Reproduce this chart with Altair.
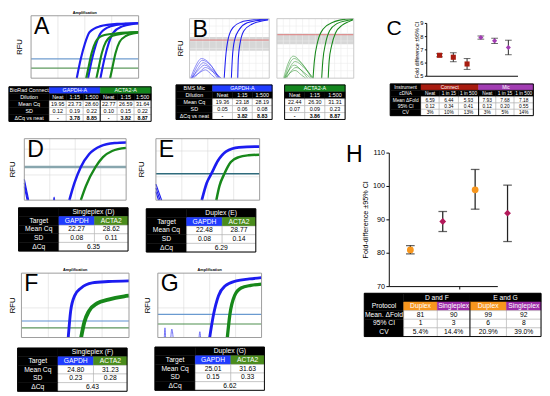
import altair as alt
import pandas as pd

FONT = "Liberation Sans"
BK, WH = "#000000", "#ffffff"
CURVE_BLUE, CURVE_GREEN = "#1c1cf0", "#17881a"
HDR_BLUE, HDR_GREEN, HDR_GREEN2 = "#1f3cff", "#14861e", "#4a8c1c"
CONNECT_RED, MIC_PURPLE = "#a81c10", "#a23db3"
DUPLEX_ORANGE, SINGLE_PURPLE, SINGLE_DOT = "#f7961d", "#9c2aa8", "#b3195a"

# ---------------- Panel A : BioRad Connect amplification (cycle, RFU) ----------------
a_gapdh_neat = [(17.0, 0), (18.5, 31), (20.0, 55), (21.8, 74), (25.5, 83), (32.0, 87), (40, 88)]
a_gapdh_15 = [(21.2, 0), (22.7, 31), (24.2, 55), (26.0, 73), (29.5, 83), (35.0, 87), (40, 88)]
a_gapdh_500 = [(25.8, 0), (27.3, 31), (28.8, 55), (30.6, 73), (34.0, 83), (38.0, 87), (40, 88)]
a_acta2_neat = [(20.5, 0), (21.3, 16), (22.5, 40), (24.0, 58), (26.5, 68), (32.0, 72), (40, 74)]
a_acta2_15 = [(24.3, 0), (25.1, 16), (26.3, 40), (27.8, 58), (30.3, 68), (35.0, 72), (40, 74)]
a_acta2_500 = [(29.4, 0), (30.2, 16), (31.4, 40), (32.9, 58), (35.4, 68), (38.5, 72), (40, 73)]
a_thresholds = [31, 16]

a_dilutions = ["Neat", "1:15", "1:500"]
a_mean_cq = [19.95, 23.73, 28.60, 22.77, 26.59, 31.64]
a_sd = [0.12, 0.19, 0.22, 0.10, 0.15, 0.22]
a_dcq = ["-", "3.78", "8.85", "-", "3.82", "8.87"]

# ---------------- Panel B : BMS Mic ----------------
b_gapdh_neat = [(17.4, 0), (18.1, 34), (19.4, 66), (21.8, 85), (25.8, 94), (32.3, 98), (39.5, 99)]
b_gapdh_15 = [(21.0, 0), (21.5, 34), (22.6, 64), (25.0, 82), (29.0, 93), (34.7, 97), (39.5, 98)]
b_gapdh_500 = [(24.2, 0), (24.5, 34), (25.5, 61), (27.4, 80), (31.5, 91), (36.3, 96), (39.5, 98)]
b_gapdh_bg = [
    [(0.5, 0), (3.0, 20), (6.0, 33), (10.0, 25), (14.5, 0)],
    [(1.0, 0), (3.5, 18), (6.5, 30), (11.0, 20), (15.0, 0)],
    [(1.5, 0), (4.0, 15), (7.0, 26), (11.0, 16), (15.5, 0)],
    [(0.8, 0), (4.0, 12), (7.5, 22), (11.5, 12), (14.0, 0)],
    [(2.0, 0), (5.0, 10), (8.0, 18), (12.0, 10), (16.0, 0)],
    [(1.0, 0), (4.5, 8), (8.0, 14), (11.0, 6), (13.0, 0)],
]
b_acta2_neat = [(18.8, 0), (19.5, 29), (21.2, 61), (24.2, 83), (29.2, 94), (35.8, 99), (39.7, 100)]
b_acta2_15 = [(23.3, 0), (23.9, 29), (25.3, 58), (27.5, 80), (31.5, 92), (36.5, 97), (39.7, 99)]
b_acta2_500 = [(26.7, 0), (27.2, 29), (28.5, 55), (30.5, 76), (34.0, 89), (37.5, 95), (39.7, 98)]
b_acta2_bg = [
    [(3.5, 0), (5.5, 22), (8.5, 37), (13.0, 25), (18.0, 0)],
    [(4.0, 0), (6.0, 20), (9.0, 33), (13.5, 22), (18.5, 0)],
    [(4.5, 0), (6.5, 16), (9.5, 28), (14.0, 18), (19.0, 0)],
    [(3.8, 0), (6.0, 12), (9.0, 22), (13.0, 12), (16.0, 0)],
    [(5.0, 0), (7.0, 10), (10.0, 18), (14.0, 10), (17.5, 0)],
    [(4.2, 0), (6.5, 8), (9.5, 13), (12.5, 6), (15.0, 0)],
]
b_gapdh_band = (46, 69, 64)   # band low, band high, threshold
b_acta2_band = (57, 75, 73)
b_mean_cq = [19.36, 23.18, 28.19, 22.44, 26.30, 31.31]
b_sd = [0.05, 0.06, 0.08, 0.07, 0.09, 0.23]
b_dcq = ["-", "3.82", "8.83", "-", "3.86", "8.87"]

# ---------------- Panel C : fold difference per instrument ----------------
c_instrument = ["Connect"] * 3 + ["Mic"] * 3
c_cdna = ["Neat", "1 in 15", "1 in 500"]
c_mean = [6.59, 6.44, 5.93, 7.93, 7.68, 7.18]
c_ci = [0.12, 0.34, 0.41, 0.12, 0.20, 0.55]
c_cv = ["3%", "10%", "13%", "3%", "5%", "14%"]
c_yticks = [5, 6, 7, 8, 9]

# ---------------- Panels D-G ----------------
d_gapdh = [(17.7, 0), (19.7, 28), (22.2, 54), (25.5, 75), (30.0, 88), (35.7, 93), (40, 94)]
d_acta2 = [(22.2, 0), (24.2, 23), (28.0, 54), (30.9, 70), (34.5, 80), (40, 85)]
d_noise = [[(0, 34), (1.7, 0)], [(0, 28), (1.4, 0)], [(0, 22), (1.1, 0)], [(11.5, 0), (11.7, 5), (11.9, 0)]]
d_threshold = 54
e_gapdh = [(17.7, 0), (19.6, 28), (21.4, 43), (23.9, 64), (27.0, 79), (32.0, 86), (38.2, 87), (40, 87)]
e_acta2 = [(23.3, 0), (24.5, 23), (26.4, 43), (28.9, 62), (32.0, 70), (35.7, 73), (40, 74)]
e_noise = [[(0, 26), (2.2, 0)], [(0, 20), (1.6, 0)], [(0, 14), (1.0, 0)]]
e_threshold = 43
f_gapdh = [(17.4, 0), (18.3, 41), (19.8, 65), (22.2, 77), (26.3, 85), (32.3, 87), (40, 88)]
f_acta2 = [(22.2, 0), (23.4, 24), (25.1, 41), (28.1, 53), (32.3, 59), (38.2, 64), (40, 65)]
f_thresholds = [25.6, 15]
g_gapdh = [(20.0, 0), (21.5, 36), (23.4, 65), (25.9, 80), (30.3, 88), (35.3, 91), (40, 93)]
g_acta2 = [(26.8, 0), (27.8, 36), (29.6, 65), (32.1, 77), (35.9, 81), (40, 83)]
g_noise = [[(2.5, 0), (2.75, 15), (3.0, 0)], [(5.0, 0), (5.4, 13), (5.9, 0)], [(15.9, 0), (16.2, 9), (16.5, 0)]]
g_thresholds = [36, 21]

d_stats = {"label": "Singleplex (D)", "cq": [22.27, 28.62], "sd": [0.08, 0.11], "dcq": 6.35}
e_stats = {"label": "Duplex (E)", "cq": [22.48, 28.77], "sd": [0.08, 0.14], "dcq": 6.29}
f_stats = {"label": "Singleplex (F)", "cq": [24.80, 31.23], "sd": [0.23, 0.28], "dcq": 6.43}
g_stats = {"label": "Duplex (G)", "cq": [25.01, 31.63], "sd": [0.15, 0.33], "dcq": 6.62}

# ---------------- Panel H ----------------
h_group = ["D and F", "D and F", "E and G", "E and G"]
h_protocol = ["Duplex", "Singleplex", "Duplex", "Singleplex"]
h_mean = [81.0, 89.5, 99.0, 92.0]
h_low = [79.8, 86.5, 93.2, 83.5]
h_high = [82.3, 92.5, 105.1, 100.4]
h_mean_fold = ["81", "90", "99", "92"]
h_ci = ["1", "3", "6", "8"]
h_cv = ["5.4%", "14.4%", "20.9%", "39.0%"]
h_yticks = [70, 80, 90, 100, 110]

ONE = pd.DataFrame({"k": [0]})


def row(*charts, spacing=0):
    return alt.concat(*charts, columns=len(charts), spacing=spacing, align="none")


def col(*charts, spacing=0):
    return alt.concat(*charts, columns=1, spacing=spacing, align="none")


def label(txt, x, y, size, **kw):
    return alt.Chart(ONE).mark_text(fontSize=size, color="black", **kw).encode(
        x=alt.value(x), y=alt.value(y), text=alt.value(txt))


def amp_plot(lines, rules, w, h, letter=None, lead=0, rfu_x=10, top=0, title=False,
             band=None, gx=(10, 20, 30), gy=(), grid_color="#d8d8d8", frame="#9a9a9a"):
    ux, uy = 40 / w, 100 / h
    xs = alt.Scale(domain=[-lead * ux, 40], nice=False, zero=False)
    ys = alt.Scale(domain=[0, 100 + top * uy], nice=False, zero=False)
    X = lambda f: alt.X(f, scale=xs, axis=None)
    Y = lambda f: alt.Y(f, scale=ys, axis=None)
    layers = []
    if band:
        bdf = pd.DataFrame({"x0": [0], "x1": [40], "lo": [band[0]], "hi": [band[1]]})
        layers.append(alt.Chart(bdf).mark_rect(color="#c9c9c9", opacity=0.75).encode(
            x=X("x0:Q"), x2="x1:Q", y=Y("lo:Q"), y2="hi:Q"))
    grid = [{"x": g, "x2": g, "y": 0, "y2": 100} for g in gx] + \
           [{"x": 0, "x2": 40, "y": g, "y2": g} for g in gy]
    layers.append(alt.Chart(pd.DataFrame(grid)).mark_rule(color=grid_color, strokeWidth=0.6).encode(
        x=X("x:Q"), x2="x2:Q", y=Y("y:Q"), y2="y2:Q"))
    rdf = pd.DataFrame([{"rfu": v, "x0": 0, "x1": 40, "color": c, "sw": s} for (v, c, s) in rules])
    layers.append(alt.Chart(rdf).mark_rule().encode(
        x=X("x0:Q"), x2="x1:Q", y=Y("rfu:Q"),
        color=alt.Color("color:N", scale=None), strokeWidth=alt.StrokeWidth("sw:Q", scale=None)))
    rows = []
    for k, (pts, color, sw) in enumerate(lines):
        for i, (c, r) in enumerate(pts):
            rows.append({"curve": k, "i": i, "cycle": c, "rfu": r, "color": color, "sw": sw})
    layers.append(alt.Chart(pd.DataFrame(rows)).mark_line(interpolate="monotone").encode(
        x=X("cycle:Q"), y=Y("rfu:Q"), detail="curve:N", order="i:Q",
        color=alt.Color("color:N", scale=None), strokeWidth=alt.StrokeWidth("sw:Q", scale=None)))
    fdf = pd.DataFrame({"x0": [0], "x1": [40], "y0": [0], "y1": [100]})
    layers.append(alt.Chart(fdf).mark_rect(fillOpacity=0, stroke=frame, strokeWidth=1).encode(
        x=X("x0:Q"), x2="x1:Q", y=Y("y0:Q"), y2="y1:Q"))
    if letter:
        layers.append(label(letter, lead + 3, top, 24, align="left", baseline="top"))
    if rfu_x:
        layers.append(label("RFU", lead - rfu_x, top + h / 2, 8, angle=270))
    if title:
        layers.append(label("Amplification", lead + w / 2, top - 1, 4, fontWeight="bold", baseline="bottom"))
    return alt.layer(*layers).properties(width=lead + w, height=top + h)


def table(cells, col_w, row_h, fs, lead=0, seps=(), borders=None):
    edges = [0]
    for cw in col_w:
        edges.append(edges[-1] + cw)
    nrows = max(c[0] for c in cells) + 1
    H = nrows * row_h
    W = edges[-1]
    recs = []
    for cell in cells:
        r, c0, c1, txt, fill, tc = cell[:6]
        bold = cell[6] if len(cell) > 6 else False
        recs.append(dict(x0=edges[c0], x1=edges[c1], y0=r * row_h, y1=(r + 1) * row_h,
                         xm=(edges[c0] + edges[c1]) / 2, ym=(r + 0.5) * row_h, text=txt,
                         fill=fill, tc=tc, bold=bold,
                         stroke="#a8a8a8" if fill == WH else fill))
    df = pd.DataFrame(recs)
    xs = alt.Scale(domain=[-lead, W], nice=False, zero=False)
    ys = alt.Scale(domain=[0, H], reverse=True, nice=False, zero=False)
    base = alt.Chart(df)
    X = lambda f: alt.X(f, scale=xs, axis=None)
    Y = lambda f: alt.Y(f, scale=ys, axis=None)
    layers = [
        base.mark_rect(strokeWidth=0.5).encode(
            x=X("x0:Q"), x2="x1:Q", y=Y("y0:Q"), y2="y1:Q",
            fill=alt.Fill("fill:N", scale=None), stroke=alt.Stroke("stroke:N", scale=None)),
        base.transform_filter("!datum.bold").mark_text(fontSize=fs).encode(
            x=X("xm:Q"), y=Y("ym:Q"), text="text:N", color=alt.Color("tc:N", scale=None)),
        base.transform_filter("datum.bold").mark_text(fontSize=fs, fontWeight="bold").encode(
            x=X("xm:Q"), y=Y("ym:Q"), text="text:N", color=alt.Color("tc:N", scale=None)),
    ]
    if seps:
        sdf = pd.DataFrame([{"x": edges[c], "y0": r0 * row_h, "y1": H} for (c, r0) in seps])
        layers.append(alt.Chart(sdf).mark_rule(color="black", strokeWidth=1).encode(
            x=X("x:Q"), y=Y("y0:Q"), y2="y1:Q"))
    if borders is None:
        borders = [(0, len(col_w))]
    bdf = pd.DataFrame([{"x0": edges[a], "x1": edges[b], "y0": 0, "y1": H} for (a, b) in borders])
    layers.append(alt.Chart(bdf).mark_rect(fillOpacity=0, stroke="black", strokeWidth=1).encode(
        x=X("x0:Q"), x2="x1:Q", y=Y("y0:Q"), y2="y1:Q"))
    return alt.layer(*layers).properties(width=W + lead, height=H)


def dot_panel(df, x_dom, y_dom, yticks, w, h, lead, top, bottom, right, ytitle, letter,
              label_fs, title_fs, title_x, letter_fs, letter_xy, tick_len, cap, psize, bar_w, xtick=None):
    ux = (x_dom[1] - x_dom[0]) / w
    uy = (y_dom[1] - y_dom[0]) / h
    xs = alt.Scale(domain=[x_dom[0] - lead * ux, x_dom[1] + right * ux], nice=False, zero=False)
    ys = alt.Scale(domain=[y_dom[0] - bottom * uy, y_dom[1] + top * uy], nice=False, zero=False)
    X = lambda f: alt.X(f, scale=xs, axis=None)
    Y = lambda f: alt.Y(f, scale=ys, axis=None)
    x0, y0 = x_dom[0], y_dom[0]
    segs = [{"x": x0, "x2": x0, "y": y_dom[0], "y2": y_dom[1]},
            {"x": x0, "x2": x_dom[1], "y": y0, "y2": y0}]
    segs += [{"x": x0 - tick_len * ux, "x2": x0, "y": t, "y2": t} for t in yticks]
    if xtick is not None:
        segs.append({"x": xtick, "x2": xtick, "y": y0, "y2": y0 - tick_len * uy})
    axis_df = pd.DataFrame(segs)
    lab_df = pd.DataFrame({"x": [x0 - (tick_len + 1.5) * ux] * len(yticks), "y": yticks,
                           "t": [str(t) for t in yticks]})
    base = alt.Chart(df)
    layers = [
        alt.Chart(axis_df).mark_rule(color="black", strokeWidth=1).encode(
            x=X("x:Q"), x2="x2:Q", y=Y("y:Q"), y2="y2:Q"),
        alt.Chart(lab_df).mark_text(fontSize=label_fs, align="right", color="black").encode(
            x=X("x:Q"), y=Y("y:Q"), text="t:N"),
        base.mark_rule(color="#222", strokeWidth=bar_w).encode(x=X("idx:Q"), y=Y("lo:Q"), y2="hi:Q"),
        base.mark_tick(orient="horizontal", size=cap, thickness=bar_w, color="#222").encode(x=X("idx:Q"), y=Y("hi:Q")),
        base.mark_tick(orient="horizontal", size=cap, thickness=bar_w, color="#222").encode(x=X("idx:Q"), y=Y("lo:Q")),
        base.mark_point(filled=True, opacity=1, size=psize, strokeWidth=0).encode(
            x=X("idx:Q"), y=Y("mean:Q"),
            color=alt.Color("color:N", scale=None), shape=alt.Shape("shape:N", scale=None)),
        label(ytitle, title_x, top + h / 2, title_fs, angle=270),
        label(letter, letter_xy[0], letter_xy[1], letter_fs, align="left", baseline="top"),
    ]
    return alt.layer(*layers).properties(width=lead + w + right, height=top + h + bottom)


# ---------- Panel A ----------
B1, G1 = CURVE_BLUE, CURVE_GREEN
a_plot = amp_plot(
    [(a_gapdh_neat, B1, 2.2), (a_gapdh_15, B1, 2.2), (a_gapdh_500, B1, 2.2),
     (a_acta2_neat, G1, 2.2), (a_acta2_15, G1, 2.2), (a_acta2_500, G1, 2.2)],
    [(a_thresholds[0], "#6f9ccf", 1.2), (a_thresholds[1], "#5e9a5e", 1.2)],
    112, 65, letter="A", lead=23, rfu_x=11, top=5, title=True)
a_cells = [(0, 0, 1, "BioRad Connect", BK, WH), (0, 1, 4, "GAPDH-A", HDR_BLUE, WH),
           (0, 4, 7, "ACTA2-A", HDR_GREEN, WH), (1, 0, 1, "Dilution", BK, WH),
           (2, 0, 1, "Mean Cq", BK, WH), (3, 0, 1, "SD", BK, WH), (4, 0, 1, "ΔCq vs neat", BK, WH)]
for j in range(6):
    a_cells += [(1, 1 + j, 2 + j, a_dilutions[j % 3], BK, WH),
                (2, 1 + j, 2 + j, f"{a_mean_cq[j]:.2f}", WH, BK),
                (3, 1 + j, 2 + j, f"{a_sd[j]:.2f}", WH, BK),
                (4, 1 + j, 2 + j, a_dcq[j], WH, BK, True)]
a_table = table(a_cells, [42] + [17.67] * 6, 7.2, 5.6, seps=[(4, 1)])
panel_a = col(a_plot, a_table, spacing=3)

# ---------- Panel B ----------
b_gx = [i * 40 / 12 for i in range(1, 12)]
b_gy = [i * 12.5 for i in range(1, 8)]
b_left = amp_plot(
    [(p, B1, 0.5) for p in b_gapdh_bg] + [(b_gapdh_neat, B1, 1.1), (b_gapdh_15, B1, 1.1), (b_gapdh_500, B1, 1.1)],
    [(b_gapdh_band[2], "#e07a7a", 1)], 83, 62, letter="B", lead=14, rfu_x=9, top=8,
    band=b_gapdh_band[:2], gx=b_gx, gy=b_gy, grid_color="#ebebeb", frame="#c8c8c8")
b_right = amp_plot(
    [(p, G1, 0.5) for p in b_acta2_bg] + [(b_acta2_neat, G1, 1.1), (b_acta2_15, G1, 1.1), (b_acta2_500, G1, 1.1)],
    [(b_acta2_band[2], "#e07a7a", 1)], 80, 62, rfu_x=0, top=8, band=b_acta2_band[:2],
    gx=b_gx, gy=b_gy, grid_color="#ebebeb", frame="#c8c8c8")
b_cols = [1, 2, 3, 5, 6, 7]
b_cells = [(0, 0, 1, "BMS Mic", BK, WH), (0, 1, 4, "GAPDH-A", HDR_BLUE, WH),
           (0, 5, 8, "ACTA2-A", HDR_GREEN, WH), (1, 0, 1, "Dilution", BK, WH),
           (2, 0, 1, "Mean Cq", BK, WH), (3, 0, 1, "SD", BK, WH), (4, 0, 1, "ΔCq vs neat", BK, WH)]
for j, c in enumerate(b_cols):
    b_cells += [(1, c, c + 1, a_dilutions[j % 3], BK, WH),
                (2, c, c + 1, f"{b_mean_cq[j]:.2f}", WH, BK),
                (3, c, c + 1, f"{b_sd[j]:.2f}", WH, BK),
                (4, c, c + 1, b_dcq[j], WH, BK, True)]
b_table = table(b_cells, [38, 20.7, 20.7, 20.6, 13, 21, 21, 21], 7.2, 5.6, borders=[(0, 4), (5, 8)])
panel_b = col(row(b_left, b_right, spacing=5), b_table, spacing=3)

# ---------- Panel C ----------
c_df = pd.DataFrame({
    "idx": list(range(1, 7)), "mean": c_mean,
    "lo": [m - c for m, c in zip(c_mean, c_ci)], "hi": [m + c for m, c in zip(c_mean, c_ci)],
    "color": [CONNECT_RED if i == "Connect" else MIC_PURPLE for i in c_instrument],
    "shape": ["square" if i == "Connect" else "diamond" for i in c_instrument]})
c_plot = dot_panel(c_df, [0.07, 6.7], [5, 9], c_yticks, 95, 55, lead=42, top=13, bottom=2, right=2,
                   ytitle="Fold difference ±95% CI", letter="C", label_fs=6, title_fs=5.5, title_x=32,
                   letter_fs=22, letter_xy=(0, 8), tick_len=2, cap=7, psize=28, bar_w=1)
c_cells = [(0, 0, 1, "Instrument", BK, WH), (0, 1, 4, "Connect", CONNECT_RED, WH),
           (0, 4, 7, "Mic", MIC_PURPLE, WH), (1, 0, 1, "cDNA", BK, WH),
           (2, 0, 1, "Mean ΔFold", BK, WH), (3, 0, 1, "95% CI", BK, WH), (4, 0, 1, "CV", BK, WH)]
for j in range(6):
    c_cells += [(1, 1 + j, 2 + j, c_cdna[j % 3], BK, WH),
                (2, 1 + j, 2 + j, f"{c_mean[j]:.2f}", WH, BK),
                (3, 1 + j, 2 + j, f"{c_ci[j]:.2f}", WH, BK),
                (4, 1 + j, 2 + j, c_cv[j], WH, BK)]
c_table = table(c_cells, [32, 19, 20, 21, 18, 19, 20], 6.6, 5.0, lead=4, seps=[(4, 1)])
panel_c = col(c_plot, c_table, spacing=3)

top_row = row(row(panel_a, panel_b, spacing=23), panel_c, spacing=30)


# ---------- Panels D-G ----------
def cq_table(st, lead):
    cells = [(0, 0, 1, "", BK, WH), (0, 1, 3, st["label"], BK, WH),
             (1, 0, 1, "Target", BK, WH), (1, 1, 2, "GAPDH", HDR_BLUE, WH), (1, 2, 3, "ACTA2", HDR_GREEN2, WH),
             (2, 0, 1, "Mean Cq", BK, WH), (2, 1, 2, f"{st['cq'][0]:.2f}", WH, BK), (2, 2, 3, f"{st['cq'][1]:.2f}", WH, BK),
             (3, 0, 1, "SD", BK, WH), (3, 1, 2, f"{st['sd'][0]:.2f}", WH, BK), (3, 2, 3, f"{st['sd'][1]:.2f}", WH, BK),
             (4, 0, 1, "ΔCq", BK, WH), (4, 1, 3, f"{st['dcq']:.2f}", WH, BK)]
    return table(cells, [42, 37, 35], 9, 7, lead=lead)


d_plot = amp_plot([(p, B1, 1.2) for p in d_noise] + [(d_gapdh, B1, 2.6), (d_acta2, G1, 2.4)],
                  [(d_threshold, "#88a6ae", 2.6)], 106, 64, letter="D", lead=16, rfu_x=12, gy=[41, 83])
e_plot = amp_plot([(p, B1, 1.2) for p in e_noise] + [(e_gapdh, B1, 2.8), (e_acta2, G1, 2.6)],
                  [(e_threshold, "#2e6b7c", 1.6)], 108, 64, letter="E", lead=18, rfu_x=14, gy=[38, 80])
f_plot = amp_plot([(f_gapdh, B1, 3.0), (f_acta2, G1, 4.0)],
                  [(f_thresholds[0], "#5d8fcf", 1.2), (f_thresholds[1], "#5a945a", 1.2)],
                  112, 67, letter="F", lead=13, rfu_x=9, top=6, title=True, gy=[46])
g_plot = amp_plot([(p, "#4a4af5", 0.8) for p in g_noise] + [(g_gapdh, B1, 3.0), (g_acta2, G1, 3.4)],
                  [(g_thresholds[0], "#6a9ad0", 1.2), (g_thresholds[1], "#4f8f4f", 1.2)],
                  108, 67, letter="G", lead=14, rfu_x=10, top=6, title=True, gy=[46])

panel_d = col(d_plot, cq_table(d_stats, 10), spacing=1)
panel_e = col(e_plot, cq_table(e_stats, 8), spacing=1)
panel_f = col(f_plot, cq_table(f_stats, 9), spacing=1)
panel_g = col(g_plot, cq_table(g_stats, 11), spacing=1)
left_block = col(row(panel_d, panel_e, spacing=6), row(panel_f, panel_g, spacing=6), spacing=14)

# ---------- Panel H ----------
h_df = pd.DataFrame({
    "idx": [1, 2, 3, 4], "mean": h_mean, "lo": h_low, "hi": h_high,
    "color": [DUPLEX_ORANGE if p == "Duplex" else SINGLE_DOT for p in h_protocol],
    "shape": ["circle" if p == "Duplex" else "diamond" for p in h_protocol]})
h_plot = dot_panel(h_df, [0.35, 3.7], [70, 110], h_yticks, 113, 139, lead=46, top=15, bottom=4, right=16,
                   ytitle="Fold-difference ±95% CI", letter="H", label_fs=7.5, title_fs=7.5, title_x=22,
                   letter_fs=24, letter_xy=(1, 5), tick_len=3, cap=9, psize=50, bar_w=1.3, xtick=2.525)
h_cells = [(0, 0, 1, "", BK, WH), (0, 1, 3, h_group[0], BK, WH), (0, 3, 5, h_group[2], BK, WH),
           (1, 0, 1, "Protocol", BK, WH), (2, 0, 1, "Mean. ΔFold", BK, WH),
           (3, 0, 1, "95% CI", BK, WH), (4, 0, 1, "CV", BK, WH)]
for j in range(4):
    h_cells += [(1, 1 + j, 2 + j, h_protocol[j], DUPLEX_ORANGE if h_protocol[j] == "Duplex" else SINGLE_PURPLE, WH),
                (2, 1 + j, 2 + j, h_mean_fold[j], WH, BK),
                (3, 1 + j, 2 + j, h_ci[j], WH, BK),
                (4, 1 + j, 2 + j, h_cv[j], WH, BK)]
h_table = table(h_cells, [41, 35, 34, 38, 36], 9, 7, lead=20, seps=[(3, 1)])
panel_h = col(h_plot, h_table, spacing=1)

bottom_row = row(left_block, panel_h, spacing=78)

chart = col(top_row, bottom_row, spacing=15).properties(
    padding={"left": 0, "top": -6, "right": 0, "bottom": 0}).configure(
    font=FONT).configure_view(stroke="transparent")

chart.save("out.html", embed_options={"renderer": "svg", "actions": False})
